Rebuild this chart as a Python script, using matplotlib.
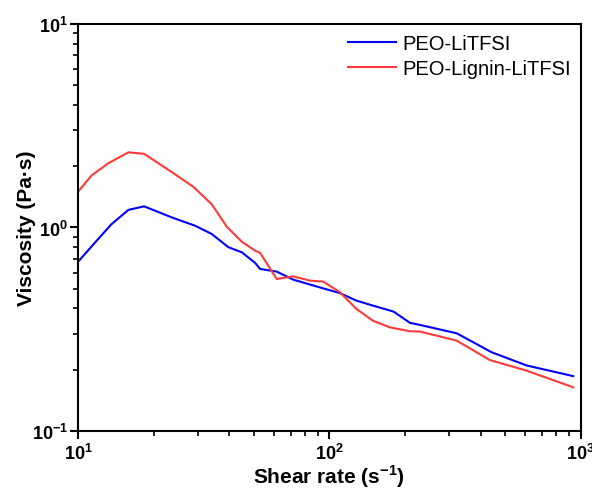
import numpy as np
import matplotlib
matplotlib.use("Agg")
import matplotlib.pyplot as plt
from matplotlib.ticker import LogLocator, FuncFormatter, NullFormatter

plt.rcParams['font.family'] = ['Liberation Sans', 'DejaVu Sans']
plt.rcParams['mathtext.fontset'] = 'custom'
plt.rcParams['mathtext.rm'] = 'Liberation Sans'
plt.rcParams['mathtext.bf'] = 'Liberation Sans:bold'

# shear rate (1/s) and viscosity (Pa*s)
rate_blue = [10, 11.7, 13.6, 15.85, 18.3, 23.6, 29.2, 34, 39.6, 44.8, 50.6, 53,
             61.7, 71.8, 94.4, 110, 128, 149, 180, 209, 229, 321, 441, 608, 933]
visc_blue = [0.679, 0.846, 1.04, 1.22, 1.27, 1.12, 1.02, 0.929, 0.80, 0.755, 0.67, 0.625,
             0.607, 0.554, 0.502, 0.476, 0.437, 0.413, 0.386, 0.34, 0.332, 0.302, 0.244, 0.21, 0.186]

rate_red = [10, 11.3, 13.2, 15.85, 18.3, 23.6, 28.8, 34, 39, 44.8, 50.6, 53,
            61.7, 71.8, 83.6, 94.4, 110, 128, 149, 174, 209, 229, 321, 435, 608, 933]
visc_red = [1.50, 1.80, 2.07, 2.34, 2.30, 1.87, 1.58, 1.30, 1.01, 0.851, 0.769, 0.75,
            0.558, 0.575, 0.548, 0.542, 0.481, 0.398, 0.348, 0.323, 0.309, 0.308, 0.278, 0.223, 0.198, 0.164]

fig = plt.figure(figsize=(5.92, 4.89), dpi=100)
ax = fig.add_axes([0.132, 0.1166, 0.849, 0.8324])

ax.plot(rate_blue, visc_blue, color='#0000ff', lw=1.5, label='PEO-LiTFSI')
ax.plot(rate_red, visc_red, color='#ff3a3a', lw=1.5, label='PEO-Lignin-LiTFSI')

ax.set_xscale('log')
ax.set_yscale('log')
ax.set_xlim(10, 1000)
ax.set_ylim(0.1, 10)

fmt = FuncFormatter(lambda v, p: r'$\mathbf{10^{%d}}$' % int(round(np.log10(v))))
ax.xaxis.set_major_locator(LogLocator(base=10, numticks=10))
ax.yaxis.set_major_locator(LogLocator(base=10, numticks=10))
ax.xaxis.set_major_formatter(fmt)
ax.yaxis.set_major_formatter(fmt)
ax.xaxis.set_minor_locator(LogLocator(base=10, subs=np.arange(2, 10), numticks=10))
ax.yaxis.set_minor_locator(LogLocator(base=10, subs=np.arange(2, 10), numticks=10))
ax.xaxis.set_minor_formatter(NullFormatter())
ax.yaxis.set_minor_formatter(NullFormatter())

for s in ax.spines.values():
    s.set_linewidth(1.5)
ax.tick_params(which='major', length=5.5, width=1.5, labelsize=13, direction='out')
ax.tick_params(which='minor', length=3.5, width=1.2, direction='out')
ax.tick_params(axis='x', which='major', pad=3)
ax.tick_params(axis='y', which='major', pad=2)

ax.set_xlabel(r'Shear rate (s$^{\mathbf{-1}}$)', fontsize=15, fontweight='bold', labelpad=0)
ax.set_ylabel('Viscosity (Pa·s)', fontsize=15, fontweight='bold', labelpad=-3)

ax.legend(loc='upper right', frameon=False, fontsize=14.5, handlelength=2.4,
          handletextpad=0.3, labelspacing=0.3, borderaxespad=0.3, borderpad=0.2)

fig.savefig('out.png', dpi=100)
